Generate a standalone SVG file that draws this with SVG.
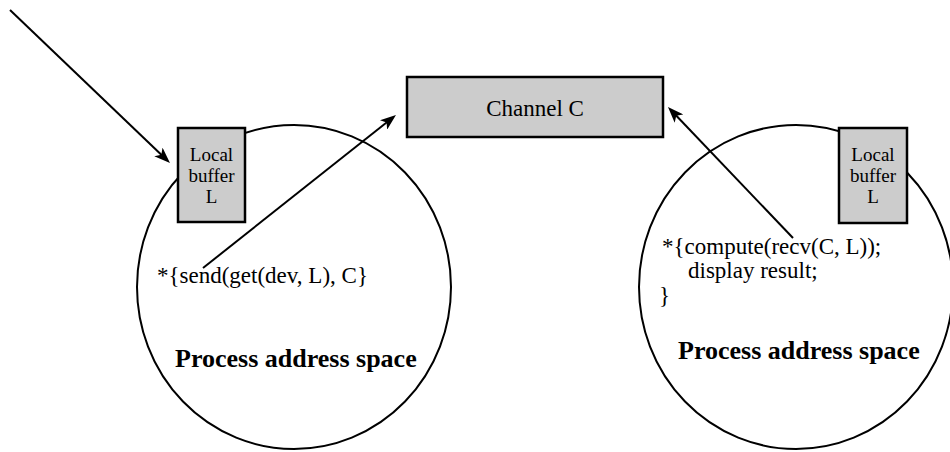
<svg xmlns="http://www.w3.org/2000/svg" width="950" height="452" viewBox="0 0 950 452">
  <defs>
    <marker id="arrow" markerUnits="userSpaceOnUse" markerWidth="16" markerHeight="12" viewBox="0 0 16 12" refX="8" refY="6" orient="auto">
      <path d="M0,0 L16,6 L0,12 L4,6 z" fill="#000"/>
    </marker>
    <style>
      .space { fill: #fff; stroke: #000; stroke-width: 2; }
      .box { fill: #cccccc; stroke: #000; stroke-width: 2.5; }
      .t { font-family: "Liberation Serif", "Times New Roman", serif; fill: #000; }
      .buf { font-size: 19px; text-anchor: middle; }
      .code { font-size: 23px; }
      .title { font-size: 26px; font-weight: bold; }
      .conn { stroke: #000; stroke-width: 2; fill: none; marker-end: url(#arrow); }
    </style>
  </defs>
  <rect width="950" height="452" fill="#fff"/>

  <g id="process-left">
    <ellipse class="space" cx="294" cy="287" rx="157" ry="162"/>
    <text class="t code" x="157" y="283">*{send(get(dev, L), C}</text>
    <text class="t title" x="175" y="367">Process address space</text>
  </g>

  <g id="process-right">
    <ellipse class="space" cx="796" cy="287" rx="157" ry="162"/>
    <text class="t code" x="662" y="254">*{compute(recv(C, L));</text>
    <text class="t code" x="688" y="278">display result;</text>
    <text class="t code" x="659" y="303">}</text>
    <text class="t title" x="678" y="359">Process address space</text>
  </g>

  <g id="buffer-left">
    <rect class="box" x="178" y="128" width="67" height="94"/>
    <text class="t buf" x="211.5" y="161">Local</text>
    <text class="t buf" x="211.5" y="182">buffer</text>
    <text class="t buf" x="211.5" y="203">L</text>
  </g>

  <g id="buffer-right">
    <rect class="box" x="839" y="128" width="68" height="95"/>
    <text class="t buf" x="873" y="161">Local</text>
    <text class="t buf" x="873" y="182">buffer</text>
    <text class="t buf" x="873" y="203">L</text>
  </g>

  <g id="channel">
    <rect class="box" x="407" y="77" width="256" height="60"/>
    <text class="t" x="535" y="116" font-size="23" text-anchor="middle">Channel C</text>
  </g>

  <g id="connectors">
    <line class="conn" x1="10" y1="10" x2="164.2" y2="157.5"/>
    <line class="conn" x1="203" y1="268" x2="389.7" y2="120"/>
    <line class="conn" x1="793" y1="238" x2="673.5" y2="112.8"/>
  </g>
</svg>
